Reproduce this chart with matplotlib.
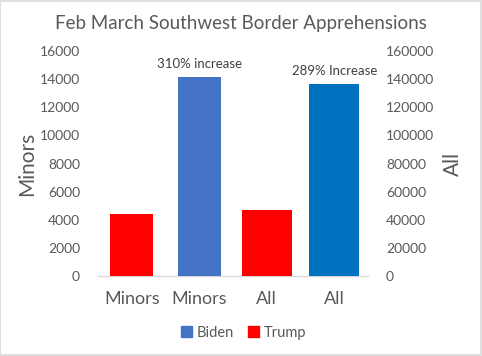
import numpy as np
import matplotlib.pyplot as plt
from matplotlib.patches import Patch, Rectangle

plt.rcParams['font.family'] = ['Lato', 'DejaVu Sans']

categories = ["Minors", "Minors", "All", "All"]
values = [4400, 14170, 47000, 136500]
series = ["Trump", "Biden", "Trump", "Biden"]
axis_side = ["left", "left", "right", "right"]
notes = ["", "310% increase", "", "289% Increase"]

colors = ["#FF0000", "#4472C4", "#FF0000", "#0070C0"]
widths = [0.63, 0.63, 0.74, 0.74]
grey = "#595959"

fig = plt.figure(figsize=(4.82, 3.56), dpi=100)
ax = fig.add_axes([0.2033, 0.2247, 0.5602, 0.632])
ax2 = ax.twinx()

x = np.arange(len(categories))
for i in range(len(categories)):
    target = ax if axis_side[i] == "left" else ax2
    target.bar(x[i], values[i], width=widths[i], color=colors[i], zorder=3)
    if notes[i]:
        target.annotate(notes[i], (x[i], values[i]), xytext=(0, 5),
                        textcoords="offset points", ha="center", va="bottom",
                        fontsize=9.5, color="#404040", annotation_clip=False)

ax.set_xlim(-0.5, 3.5)
ax.set_ylim(0, 16000)
ax2.set_ylim(0, 160000)
ax.set_yticks(np.arange(0, 16001, 2000))
ax2.set_yticks(np.arange(0, 160001, 20000))
ax.set_xticks(x)
ax.set_xticklabels(categories, fontsize=13, color=grey)

for a in (ax, ax2):
    for s in a.spines.values():
        s.set_visible(False)
    a.tick_params(axis="y", length=0, labelsize=10, labelcolor=grey, pad=13)
ax.tick_params(axis="x", length=0, pad=11)
ax.spines["bottom"].set_visible(True)
ax.spines["bottom"].set_color("#D9D9D9")
ax.spines["bottom"].set_linewidth(1)

ax.set_ylabel("Minors", fontsize=15, color=grey, labelpad=2)
ax2.set_ylabel("All", fontsize=15, color=grey, labelpad=6)

fig.text(0.5, 0.935, "Feb March Southwest Border Apprehensions",
         ha="center", va="center", fontsize=13.5, color=grey)

handles = [Patch(color="#4472C4", label="Biden"), Patch(color="#FF0000", label="Trump")]
fig.legend(handles=handles, loc="center", bbox_to_anchor=(0.505, 0.065), ncol=2,
           frameon=False, fontsize=10.5, labelcolor=grey, handlelength=0.75,
           handleheight=0.75, handletextpad=0.3, columnspacing=1.0)

fig.patches.append(Rectangle((0.001, 0.002), 0.997, 0.996, transform=fig.transFigure,
                             fill=False, edgecolor="#D9D9D9", linewidth=1.2))

fig.savefig("out.png", dpi=100)
